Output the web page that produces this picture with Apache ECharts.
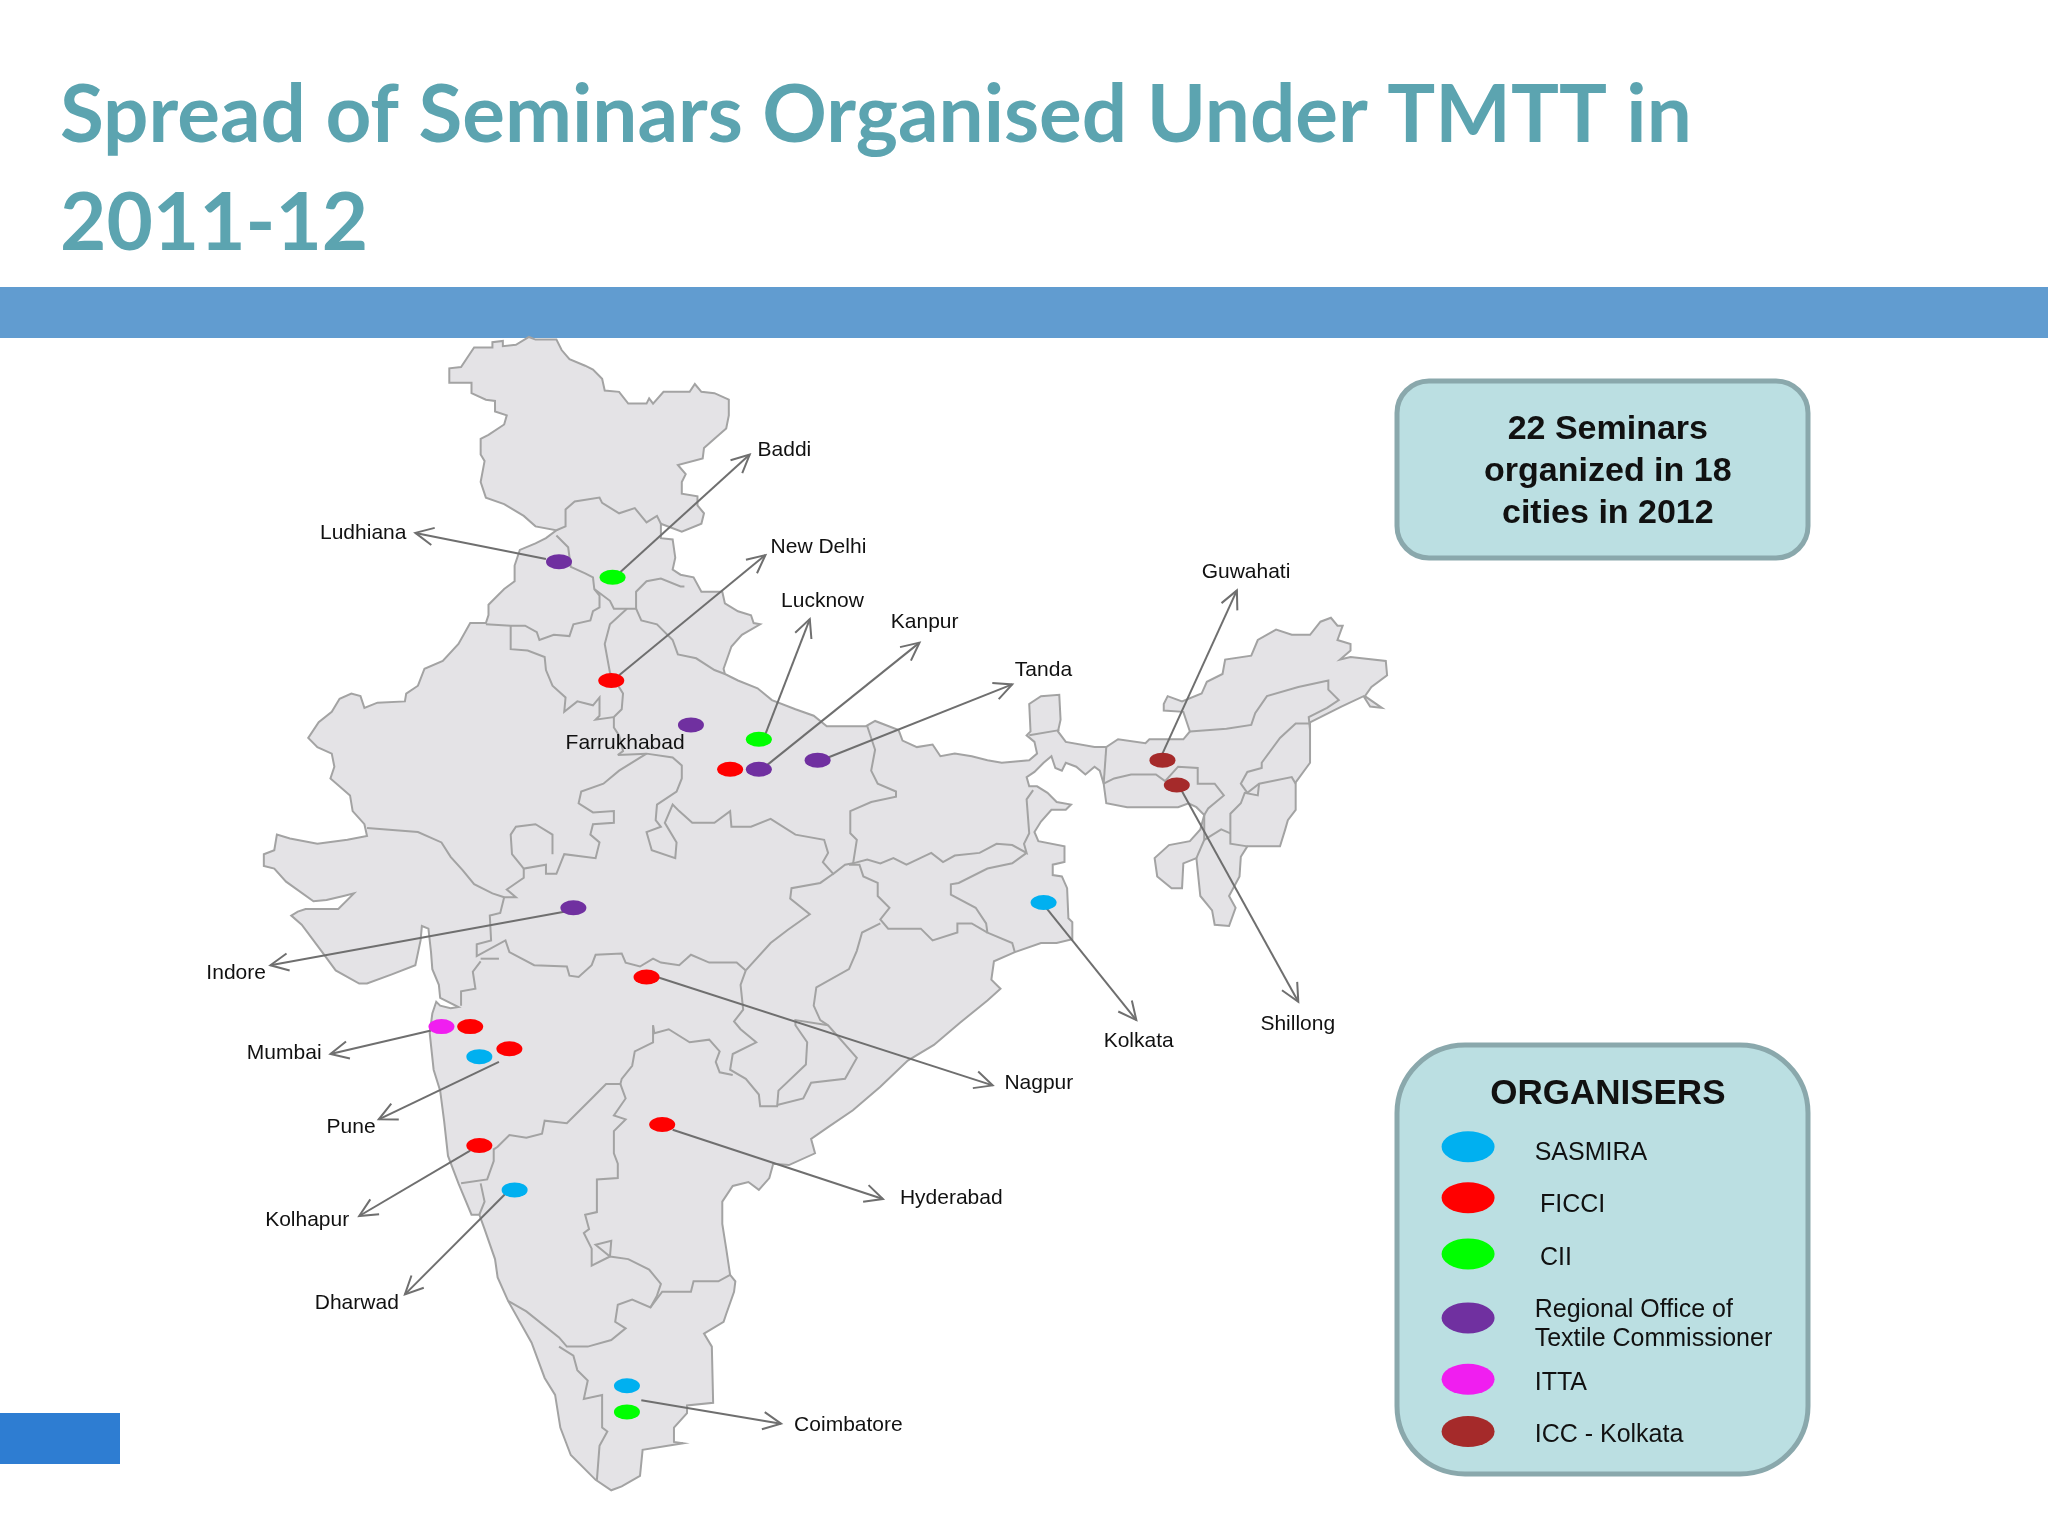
<!DOCTYPE html>
<html>
<head>
<meta charset="utf-8">
<title>Spread of Seminars</title>
<style>
  html, body { margin: 0; padding: 0; background: #fff; }
  #main { width: 2048px; height: 1536px; }
</style>
<script src="https://cdn.jsdelivr.net/npm/echarts@6/dist/echarts.min.js"></script>
</head>
<body>
<div id="main"></div>
<script>
var titleText = 'Spread of Seminars Organised Under TMTT in\n2011-12';
var noteLines = ['22 Seminars', 'organized in 18', 'cities in 2012'];

var indiaOutline = [
  [344,293],[344,282],[353,281],[359,272],[363,266],[377,266],[377,262],[385,261],[385,265],[395,264],[405,258],[410,260],[426,260],[430,268],[436,275],[448,280],[454,283],[461,290],[463,299],[474,300],[481,309],[495,309],[497,305],[500,309],[508,300],[528,300],[532,294],[537,300],[547,301],[558,306],[558,318],[556,328],[547,336],[539,343],[538,351],[519,356],[525,363],[522,369],[522,378],[534,380],[534,387],[539,393],[537,401],[522,407],[506,401],[506,412],[515,413],[517,427],[515,436],[521,440],[531,442],[537,453],[553,453],[555,462],[565,468],[575,471],[577,477],[582,478],[568,486],[560,495],[554,512],[555,516],[565,521],[580,527],[591,536],[609,543],[623,548],
  [633,556],[663,556],[670,552],[688,559],[691,567],[702,572],[714,570],[720,579],[731,577],[744,579],[756,582],[767,584],[788,582],[794,577],[792,568],[786,563],[789,560],[788,539],[797,533],[811,532],[812,551],[810,560],[816,568],[838,572],[847,572],[856,566],[877,569],[880,566],[906,566],[911,560],
  [906,545],[891,544],[891,539],[894,533],[905,537],[920,531],[924,522],[936,516],[938,505],[958,502],[963,490],[977,482],[989,486],[1003,486],[1011,476],[1019,473],[1024,479],[1028,479],[1024,490],[1034,493],[1034,498],[1026,505],[1034,503],[1061,506],[1062,517],[1050,526],[1045,533],[1058,542],[1049,541],[1044,533],[1027,541],[1003,553],[1003,584],[992,599],[992,620],[986,628],[984,635],[980,648],[955,648],[950,656],[949,671],[941,686],[946,695],[941,709],[930,708],[928,697],[919,686],[916,657],[906,661],[905,680],[897,680],[886,671],[884,657],[895,647],[911,644],[919,635],[922,624],[916,618],[910,615],[902,618],[863,618],[847,615],[845,600],[842,590],[838,587],[831,593],[824,587],[816,584],[813,590],[808,588],[805,579],[799,584],[792,591],[786,595],[788,602],[794,602],[802,607],[809,614],[820,616],[816,620],[805,620],[797,629],[792,637],[795,644],[815,648],[815,660],[806,662],[806,670],[813,671],[817,680],[818,703],[821,706],[821,719],[809,722],[797,722],[777,729],[761,736],[759,750],[766,757],[756,766],
  [735,783],[715,800],[695,812],[674,832],[653,850],[634,863],[621,872],[624,883],[604,892],[592,891],[589,902],[581,911],[573,905],[561,908],[553,920],[553,937],[556,956],[559,976],[563,981],[562,989],[556,1006],[554,1012],[539,1021],[545,1031],[546,1074],[526,1076],[526,1082],[516,1093],[516,1104],[523,1105],[492,1110],[490,1130],[476,1138],[468,1141],[456,1133],[437,1114],[429,1093],[425,1068],[417,1055],[407,1028],[389,996],[381,978],[379,964],[371,941],[367,930],[361,930],[351,906],[343,885],[340,858],[337,835],[332,819],[329,791],[331,776],[334,767],[337,770],[345,772],[351,771],[337,764],[336,754],[331,742],[330,729],[328,711],[323,709],[322,720],[318,739],[300,746],[281,753],[275,753],[257,743],[246,728],[231,708],[223,701],[228,698],[234,696],[259,696],[271,684],[263,686],[250,689],[240,690],[219,675],[210,665],[202,663],[202,654],[210,651],[212,639],[222,642],[243,646],[266,643],[281,640],[279,631],[270,621],[268,609],[253,596],[256,587],[254,577],[243,572],[236,565],[244,553],[254,545],[260,535],[269,531],[276,533],[279,542],[289,538],[310,537],[311,531],[320,525],[325,512],[339,506],[351,493],[360,477],[372,477],[374,471],[374,463],[386,451],[394,445],[394,433],[398,421],[410,416],[418,412],[426,406],[410,403],[401,395],[386,386],[372,381],[368,369],[371,353],[368,348],[368,336],[374,333],[386,325],[388,318],[379,315],[379,307],[372,306],[361,301],[361,293]
];

var stateBorders = [
  [[426,406],[433,403],[433,390],[440,384],[459,381],[461,385],[474,393],[486,389],[495,400],[503,395],[506,401]],
  [[426,410],[435,419],[437,434],[448,439],[454,442],[455,451],[467,460],[470,466],[487,466],[487,453],[495,445],[506,443],[521,449],[524,449]],
  [[487,466],[491,475],[503,478],[515,490],[519,501],[533,504],[547,513],[555,516]],
  [[372,478],[391,479],[402,479],[411,484],[413,490],[424,486],[436,487],[439,478],[452,475],[454,468],[459,465],[459,456],[455,451]],
  [[391,479],[391,497],[404,498],[417,503],[418,513],[423,525],[433,534],[432,545],[442,537],[454,540],[459,534],[459,548],[456,551],[470,549],[470,557],[474,563],[477,575],[473,578]],
  [[480,466],[467,478],[463,493],[467,515],[477,531],[476,543],[470,549]],
  [[473,578],[495,577],[515,580],[522,586],[522,596],[518,606],[503,616],[502,628],[506,633],[495,637],[499,651],[517,657],[518,645],[509,630],[515,616],[520,621],[530,630],[547,630],[559,621],[560,633],[575,633],[590,627],[609,639],[631,643],[634,653],[630,660],[638,669],[647,662],[653,661]],
  [[495,577],[474,590],[462,600],[445,606],[443,615],[454,622],[470,621],[470,630],[454,631],[452,639],[459,645],[456,657],[432,654],[426,669],[418,669],[418,662],[401,665],[392,654],[391,639],[395,633],[410,631],[423,639],[423,654]],
  [[401,665],[401,672],[388,681],[395,687],[386,687],[383,699],[375,701],[376,720],[365,723],[365,732],[387,720],[390,729],[409,739],[434,740],[436,747],[443,748],[453,739],[456,731],[476,730],[479,737],[490,740],[500,734],[506,737],[520,739],[529,731],[543,737],[564,737],[571,743]],
  [[281,634],[320,637],[338,645],[345,656],[354,666],[363,677],[377,684],[386,687]],
  [[571,743],[590,722],[603,712],[620,700],[605,688],[606,680],[628,676],[638,669]],
  [[368,734],[382,734]],
  [[368,736],[362,744],[364,757],[353,759],[353,770]],
  [[571,743],[567,754],[569,773],[562,782],[567,788],[579,798],[561,807],[559,819],[571,826],[581,838],[582,847],[595,847],[596,835],[617,815],[618,798],[609,785],[609,781],[634,785]],
  [[500,785],[501,791],[512,788],[528,798],[543,796],[551,805],[548,813],[551,821],[561,823]],
  [[500,785],[500,798],[486,805],[484,816],[476,826],[475,830],[464,830],[453,841],[443,851],[434,860],[417,858],[415,868],[403,871],[390,869],[381,878],[378,880],[378,889],[373,903],[353,906]],
  [[368,906],[371,920],[367,930]],
  [[475,830],[479,841],[470,854],[479,857],[470,866],[470,883],[473,891],[473,902],[457,903],[457,928],[448,930],[451,941],[447,944],[453,956],[453,969],[467,962],[468,950],[456,953],[467,962],[481,964],[497,972],[506,983],[503,992],[498,1001],[484,995],[473,999],[471,1012],[479,1017],[468,1026],[450,1031],[434,1031],[428,1024],[403,1004],[389,996]],
  [[498,1001],[507,989],[529,989],[531,981],[550,981],[559,976]],
  [[428,1031],[439,1038],[442,1049],[450,1057],[447,1071],[461,1068],[461,1093],[465,1096],[459,1107],[457,1133]],
  [[664,556],[670,574],[667,590],[672,600],[686,606],[686,610],[667,614],[651,621],[651,638],[656,643],[653,662]],
  [[653,661],[664,658],[674,661],[684,657],[694,662],[713,653],[722,660],[731,655],[750,653],[763,646],[775,647],[786,653],[784,646],[788,638],[786,612],[791,605]],
  [[786,653],[775,661],[756,665],[734,676],[728,677],[728,685],[747,695],[755,707],[756,714],[775,722],[777,729]],
  [[756,714],[744,707],[733,707],[733,714],[714,720],[705,711],[680,711],[674,704],[681,695],[672,686],[672,676],[661,671],[658,662],[650,662]],
  [[674,707],[660,714],[656,728],[650,742],[625,756],[623,770],[628,781],[634,785],[656,810],[647,826],[621,829],[615,841],[595,846]],
  [[911,560],[939,558],[958,555],[961,546],[970,533],[994,526],[1017,521],[1017,528],[1025,536],[1016,542],[1002,549],[1003,559]],
  [[1003,554],[992,554],[980,565],[966,584],[966,588],[955,591],[950,600],[955,607],[964,600],[989,595],[992,600]],
  [[964,600],[963,609],[953,607],[950,615],[942,623],[942,646],[955,648]],
  [[845,600],[853,596],[866,593],[885,593],[892,598],[902,587],[917,588],[917,600],[930,600],[937,609],[925,619],[922,624]],
  [[922,624],[922,643],[935,635],[942,638]],
  [[922,643],[916,657]],
  [[847,572],[845,600]],
  [[788,563],[811,559]]
];

// organiser pins
var sasmiraPins = [[799,691],[367,809],[394,911],[480,1061]];
var ficciPins = [[468,521],[559,589],[495,748],[360,786],[390,803],[507,861],[367,877]];
var ciiPins = [[469,442],[581,566],[480,1081]];
var regionalPins = [[428,430],[529,555],[581,589],[626,582],[439,695]];
var ittaPins = [[338,786]];
var iccPins = [[890,582],[901,601]];

// arrows: from x, from y, to x, to y
var arrows = [
  [418,428,318,408],[475,438,574,348],[474,517,586,425],[586,562,620,474],[587,586,704,492],[634,580,775,524],
  [890,577,947,452],[904,604,994,767],[801,695,870,781],[432,698,207,739],[503,748,760,831],[330,789,253,807],
  [382,813,290,857],[515,865,676,918],[360,881,275,931],[387,914,310,991],[491,1072,598,1090]
];

var cityNames = ['Ludhiana','Baddi','New Delhi','Lucknow','Kanpur','Tanda','Guwahati','Farrukhabad','Indore','Mumbai','Pune','Kolhapur','Dharwad','Coimbatore','Hyderabad','Nagpur','Kolkata','Shillong'];
var cityLabelPos = [[245,408],[580,345],[590,419],[598,460],[682,476],[777,513],[920,438],[433,569],[158,745],[189,806],[250,863],[203,934],[241,998],[608,1091],[689,917],[769,829],[845,797],[965,784]];

var organisers = ['SASMIRA','FICCI','CII','Regional Office of\nTextile Commissioner','ITTA','ICC - Kolkata'];
var organiserColors = ['#00b0f0','#ff0000','#00ff00','#7030a0','#f01ef0','#a52a2a'];
var legendKeyPos = [[1124,878],[1124,917],[1124,960],[1124,1009],[1124,1056],[1124,1096]];
var legendTextPos = [[1175,883],[1179,923],[1179,963],[1175,1014],[1175,1059],[1175,1099]];

var FONT = '"Liberation Sans", Arial, sans-serif';

function pinSeries(name, pins, color) {
  return {
    name: name, type: 'scatter', z: 6, silent: true,
    symbol: 'circle', symbolSize: [26, 15],
    itemStyle: { color: color, opacity: 1 },
    data: pins
  };
}

function textSeries(items, font, align) {
  return {
    type: 'custom', z: 7, silent: true, clip: false,
    data: items.map(function (t, i) { return [t.pos[0], t.pos[1], i]; }),
    renderItem: function (params, api) {
      var t = items[params.dataIndex];
      var p = api.coord([t.pos[0], t.pos[1]]);
      return {
        type: 'text', x: p[0], y: p[1],
        style: { text: t.text, font: font, fill: '#111', align: align, verticalAlign: 'middle', lineHeight: 29 }
      };
    }
  };
}

function pts(list, api) {
  return list.map(function (p) { return api.coord(p); });
}

var mapSeries = {
  type: 'custom', z: 3, silent: true, clip: false,
  data: [[0, 0]],
  renderItem: function (params, api) {
    var children = [{
      type: 'polygon',
      shape: { points: pts(indiaOutline, api) },
      style: { fill: '#e4e3e6', stroke: '#a3a3a3', lineWidth: 2 }
    }];
    stateBorders.forEach(function (b) {
      children.push({
        type: 'polyline',
        shape: { points: pts(b, api) },
        style: { fill: null, stroke: '#a3a3a3', lineWidth: 2 }
      });
    });
    return { type: 'group', children: children };
  }
};

var arrowSeries = {
  type: 'custom', z: 5, silent: true, clip: false,
  data: arrows,
  renderItem: function (params, api) {
    var a = api.coord([api.value(0), api.value(1)]);
    var b = api.coord([api.value(2), api.value(3)]);
    var ang = Math.atan2(b[1] - a[1], b[0] - a[0]);
    var len = 20, wing = 0.45;
    var head = [
      [b[0] - len * Math.cos(ang - wing), b[1] - len * Math.sin(ang - wing)],
      b,
      [b[0] - len * Math.cos(ang + wing), b[1] - len * Math.sin(ang + wing)]
    ];
    var st = { fill: null, stroke: '#6f6f6f', lineWidth: 2 };
    return {
      type: 'group',
      children: [
        { type: 'line', shape: { x1: a[0], y1: a[1], x2: b[0], y2: b[1] }, style: st },
        { type: 'polyline', shape: { points: head }, style: st }
      ]
    };
  }
};

var cityLabels = cityNames.map(function (n, i) { return { text: n, pos: cityLabelPos[i] }; });
var legendLabels = organisers.map(function (n, i) { return { text: n, pos: legendTextPos[i] }; });
var noteLabels = noteLines.map(function (n, i) { return { text: n, pos: [1231, 329 + i * 32] }; });

var legendKeys = {
  type: 'scatter', z: 6, silent: true,
  symbol: 'circle', symbolSize: [53, 31],
  data: legendKeyPos.map(function (p, i) {
    return { value: p, itemStyle: { color: organiserColors[i], opacity: 1 } };
  })
};

var option = {
  animation: false,
  backgroundColor: '#fff',
  grid: { left: 0, right: 0, top: 0, bottom: 0 },
  xAxis: { type: 'value', min: 0, max: 1568, show: false },
  yAxis: { type: 'value', min: 0, max: 1176, inverse: true, show: false },
  title: {
    text: titleText, left: 60, top: 62, padding: 0,
    textStyle: { color: '#5ca4b0', fontFamily: 'Lato', fontWeight: 'bold', fontSize: 80, lineHeight: 108 }
  },
  graphic: [
    { type: 'rect', z: 0, shape: { x: 0, y: 287, width: 2048, height: 51 }, style: { fill: '#619cd0' } },
    { type: 'rect', z: 0, shape: { x: 0, y: 1413, width: 120, height: 51 }, style: { fill: '#2e7dd2' } },
    { type: 'rect', z: 0, shape: { x: 1397, y: 381, width: 411, height: 177, r: 32 }, style: { fill: '#bbdfe2', stroke: '#8aa8ac', lineWidth: 5 } },
    { type: 'rect', z: 0, shape: { x: 1397, y: 1045, width: 411, height: 429, r: 68 }, style: { fill: '#bbdfe2', stroke: '#8aa8ac', lineWidth: 5 } }
  ],
  series: [
    mapSeries,
    arrowSeries,
    pinSeries('SASMIRA', sasmiraPins, organiserColors[0]),
    pinSeries('FICCI', ficciPins, organiserColors[1]),
    pinSeries('CII', ciiPins, organiserColors[2]),
    pinSeries('Regional Office of Textile Commissioner', regionalPins, organiserColors[3]),
    pinSeries('ITTA', ittaPins, organiserColors[4]),
    pinSeries('ICC - Kolkata', iccPins, organiserColors[5]),
    legendKeys,
    textSeries(cityLabels, '21px ' + FONT, 'left'),
    textSeries(legendLabels, '25px ' + FONT, 'left'),
    textSeries(noteLabels, 'bold 34px ' + FONT, 'center'),
    textSeries([{ text: 'ORGANISERS', pos: [1231, 838] }], 'bold 35px ' + FONT, 'center')
  ]
};

var myChart = echarts.init(document.getElementById('main'));
myChart.setOption(option);
window.addEventListener('resize', myChart.resize);
</script>
</body>
</html>
